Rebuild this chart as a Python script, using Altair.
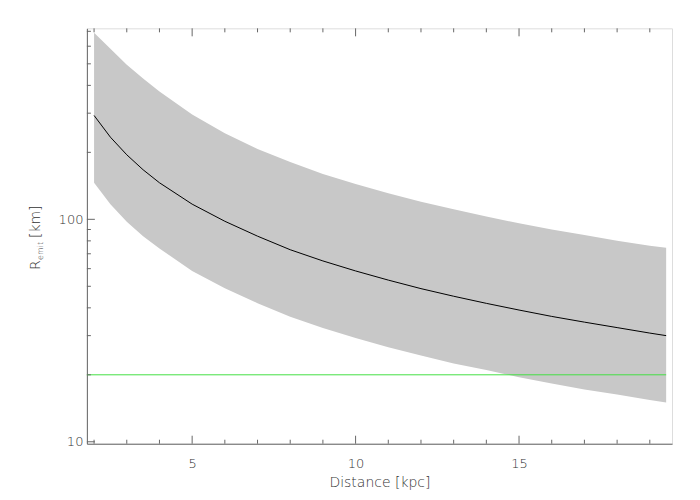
import altair as alt
import pandas as pd

# Data
distance = [2, 2.5, 3, 3.5, 4, 5, 6, 7, 8, 9, 10, 11, 12, 13, 14, 15, 16, 17, 18, 19, 19.5]
r_center = [293, 234, 195, 167, 146, 117, 98, 84, 73, 65, 58.6, 53.3, 48.8, 45.1, 41.9,
            39.1, 36.6, 34.5, 32.6, 30.8, 30.0]
r_upper = [689, 585, 495, 430, 375, 296, 244, 207, 181, 160, 144, 131, 120, 111, 103,
           96, 90, 85, 80, 76, 74.6]
r_lower = [146, 117, 97.5, 84, 74, 58.5, 49, 42, 36.5, 32.5, 29.3, 26.6, 24.4, 22.5,
           21, 19.5, 18.3, 17.2, 16.3, 15.4, 15.0]

limit_x = [1.78, 19.5]
limit_y = [20, 20]

x_major = [5, 10, 15]
x_minor = [2, 3, 4, 6, 7, 8, 9, 11, 12, 13, 14, 16, 17, 18, 19]
y_major = [10, 100]
y_minor = [20, 30, 40, 50, 60, 70, 80, 90, 200, 300, 400, 500, 600, 700]

X_DOMAIN = [1.78, 19.68]
Y_DOMAIN = [9.8, 722]
W, H = 586, 416
FONT = "DejaVu Sans"
TXT = "#333333"
AX = "#666666"

df = pd.DataFrame({"d": distance, "c": r_center, "u": r_upper, "l": r_lower})
lim = pd.DataFrame({"d": limit_x, "r": limit_y})

xs = alt.Scale(domain=X_DOMAIN, nice=False, zero=False)
ys = alt.Scale(type="log", domain=Y_DOMAIN, nice=False)

xaxis = alt.Axis(values=x_major, ticks=False, grid=False, domain=True, domainColor=AX,
                 labelFont=FONT, labelFontSize=13, labelFontWeight=200, labelColor=TXT,
                 labelPadding=14, labelFlush=False, title="Distance [kpc]",
                 titleFont=FONT, titleFontSize=14, titleFontWeight=200,
                 titleColor=TXT, titlePadding=5)
yaxis = alt.Axis(values=y_major, ticks=False, grid=False, domain=True, domainColor=AX,
                 labelFont=FONT, labelFontSize=13, labelFontWeight=200, labelColor=TXT,
                 labelPadding=4, labelFlush=False, format="d", title=None)

band = alt.Chart(df).mark_area(color="#c8c8c8", opacity=1).encode(
    x=alt.X("d:Q", scale=xs, axis=xaxis),
    y=alt.Y("u:Q", scale=ys, axis=yaxis),
    y2="l:Q",
)
center = alt.Chart(df).mark_line(color="black", strokeWidth=1).encode(
    x=alt.X("d:Q", scale=xs), y=alt.Y("c:Q", scale=ys)
)
green = alt.Chart(lim).mark_line(color="#44e044", strokeWidth=1).encode(
    x=alt.X("d:Q", scale=xs), y=alt.Y("r:Q", scale=ys)
)

def xticks(vals, length, top):
    d = pd.DataFrame({"v": vals})
    if top:
        y1, y2 = 0, length
    else:
        y1, y2 = H, H - length
    return alt.Chart(d).mark_rule(color=AX, strokeWidth=1).encode(
        x=alt.X("v:Q", scale=xs), y=alt.value(y1), y2=alt.value(y2)
    )

def yticks(vals, length):
    d = pd.DataFrame({"v": vals})
    return alt.Chart(d).mark_rule(color=AX, strokeWidth=1).encode(
        y=alt.Y("v:Q", scale=ys), x=alt.value(0), x2=alt.value(length)
    )

ticks = [
    xticks(x_major, 8, False), xticks(x_minor, 4, False),
    xticks(x_major, 8, True), xticks(x_minor, 4, True),
    yticks(y_major, 8), yticks(y_minor, 4),
]

def vtext(txt, size, xpix, ypix):
    return alt.Chart(pd.DataFrame({"t": [txt]})).mark_text(
        angle=270, align="left", baseline="alphabetic", font=FONT, fontSize=size,
        fontWeight=200, color=TXT
    ).encode(text="t:N", x=alt.value(xpix), y=alt.value(ypix))

ytitle = [
    vtext("R", 14, -47, 242),
    vtext("emit", 8, -44, 232),
    vtext("[km]", 14, -47, 210),
]

chart = alt.layer(band, center, green, *ticks, *ytitle).properties(
    width=W, height=H,
    autosize=alt.AutoSizeParams(type="none"),
    padding={"left": 79, "top": 20, "right": 20, "bottom": 56},
).configure_view(stroke=AX, strokeWidth=1).configure(background="white")

chart.save("out.html", embed_options={"renderer": "svg", "actions": False})
